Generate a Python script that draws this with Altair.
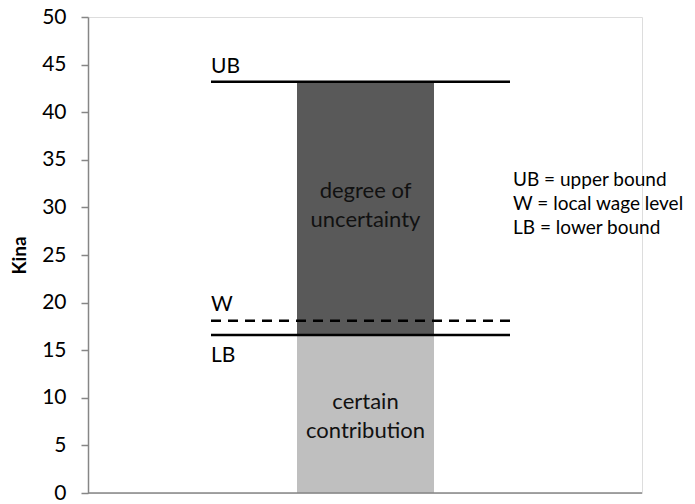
import altair as alt
import pandas as pd

# ---- data ----
segments = ["certain contribution", "degree of uncertainty"]
seg_low = [0.0, 16.6]
seg_high = [16.6, 43.2]
seg_colors = ["#bfbfbf", "#595959"]

line_names = ["UB", "W", "LB"]
line_values = [43.2, 18.1, 16.6]
line_dashed = [False, True, False]

y_ticks = [0, 5, 10, 15, 20, 25, 30, 35, 40, 45, 50]
legend_lines = ["UB = upper bound", "W = local wage level", "LB = lower bound"]

FONT = "Lato"
W, H = 554, 476
TOP = 9

bars_df = pd.DataFrame({"segment": segments, "low": seg_low, "high": seg_high})
lines_df = pd.DataFrame({"name": line_names, "value": line_values, "dashed": line_dashed})

yscale = alt.Scale(domain=[0, 50], nice=False, zero=True)
yaxis = alt.Axis(
    values=y_ticks, grid=False, domainColor="#868686", domainWidth=1.5,
    tickColor="#868686", tickWidth=1.5, tickSize=7, labelFontSize=21, labelFont=FONT,
    labelColor="#000000", labelPadding=15, title="Kina", titleFont=FONT,
    titleFontSize=19, titleFontWeight="bold", titleColor="#000000",
    titleX=-69, titleY=H / 2, titleAngle=-90, titleBaseline="middle", titleAlign="center",
)

bars = alt.Chart(bars_df).mark_bar().encode(
    x=alt.value(209), x2=alt.value(346),
    y=alt.Y("low:Q", scale=yscale, axis=yaxis),
    y2="high:Q",
    color=alt.Color("segment:N", scale=alt.Scale(domain=segments, range=seg_colors), legend=None),
)

xline = alt.Chart(bars_df).mark_rule(color="#868686", strokeWidth=1.5).encode(
    x=alt.value(0), x2=alt.value(W), y=alt.value(H)
).transform_filter(alt.datum.segment == segments[0])

solid = alt.Chart(lines_df).transform_filter(~alt.datum.dashed).mark_rule(
    color="#000000", strokeWidth=2.5
).encode(x=alt.value(123), x2=alt.value(422), y=alt.Y("value:Q", scale=yscale))

dashed = alt.Chart(lines_df).transform_filter(alt.datum.dashed).mark_rule(
    color="#000000", strokeWidth=2.5, strokeDash=[10, 7]
).encode(x=alt.value(123), x2=alt.value(422), y=alt.Y("value:Q", scale=yscale))

# baselines (page y) of the line labels
label_y = {"UB": 73 - 8 - TOP, "W": 311 - 8 - TOP, "LB": 362 - 8 - TOP}
labels = alt.layer(*[
    alt.Chart(lines_df).transform_filter(alt.datum.name == n).mark_text(
        align="left", baseline="alphabetic", font=FONT, fontSize=21, color="#000000"
    ).encode(x=alt.value(123), y=alt.value(label_y[n]), text="name:N")
    for n in line_names
])

bar_text = alt.layer(
    alt.Chart(bars_df).transform_filter(alt.datum.segment == segments[1]).mark_text(
        align="center", baseline="alphabetic", font=FONT, fontSize=22, color="#111111",
        lineHeight=29,
    ).encode(x=alt.value(277.5), y=alt.value(198 - 8 - TOP), text=alt.value(["degree of", "uncertainty"])),
    alt.Chart(bars_df).transform_filter(alt.datum.segment == segments[0]).mark_text(
        align="center", baseline="alphabetic", font=FONT, fontSize=22, color="#111111",
        lineHeight=29,
    ).encode(x=alt.value(277.5), y=alt.value(409 - 8 - TOP), text=alt.value(["certain", "contribution"])),
)

legend_text = alt.Chart(bars_df).transform_filter(alt.datum.segment == segments[0]).mark_text(
    align="left", baseline="alphabetic", font=FONT, fontSize=19, color="#000000", lineHeight=24,
).encode(x=alt.value(425), y=alt.value(186 - 8 - TOP), text=alt.value(legend_lines))

chart = alt.layer(bars, xline, solid, dashed, labels, bar_text, legend_text).properties(
    width=W, height=H,
    autosize=alt.AutoSizeParams(type="none"),
    padding={"left": 80, "top": TOP, "right": 45, "bottom": 11},
).configure_view(stroke=None).configure(background="white")

chart.save("out.html", embed_options={"renderer": "svg", "actions": False})
